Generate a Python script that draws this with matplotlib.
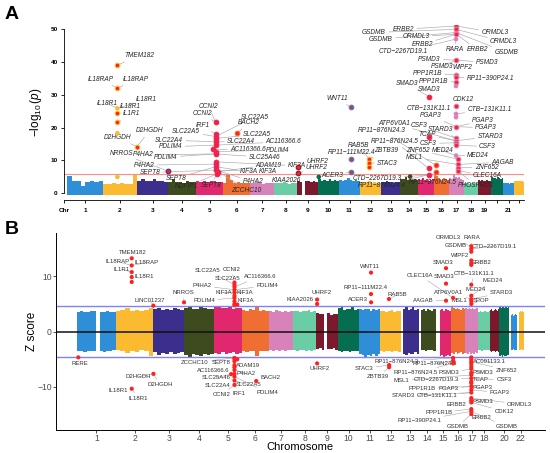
import matplotlib
matplotlib.use("Agg")
import matplotlib.pyplot as plt
import numpy as np

plt.rcParams['font.family'] = ['Liberation Sans', 'DejaVu Sans']
plt.rcParams['mathtext.fontset'] = 'custom'
plt.rcParams['mathtext.rm'] = 'Liberation Sans'
plt.rcParams['mathtext.it'] = 'Liberation Sans:italic'

# ---------------- shared data ----------------
CHR_LEN = [249, 243, 198, 191, 181, 171, 159, 146, 141, 136, 135, 134,
           115, 107, 102, 90, 81, 78, 59, 63, 48, 51]          # Mb
A_SPAN = [36, 34, 31, 28, 27, 27, 24, 23, 21, 21, 21, 21,
          19, 18, 16, 15, 15, 14, 13, 12, 11, 10]               # panel A: relative SNP count per chromosome
COLORS = ['#2E8FD8', '#FBBA30', '#3B2E8C', '#3D4B1E', '#E1286E',
          '#F06E32', '#D782B9', '#69CDA5', '#7D192D', '#056E50']
RED = '#FF2020'

# ---------------- panel A data ----------------
A_TOP = [
    [5.2, 3.6, 3.8, 2.2, 3.5, 3.7, 3.4, 3.6],
    [2.8, 2.9, 3.1, 2.8, 3.0, 2.7, 2.9, 5.6],
    [3.8, 4.3, 3.6, 3.9, 4.4, 3.7, 3.8, 3.5],
    [3.4, 4.4, 3.3, 3.5, 3.2, 3.6, 3.4, 3.3],
    [3.6, 3.4, 3.7, 3.5, 3.9, 3.6, 3.4, 3.5],
    [3.1, 5.6, 4.2, 3.1, 3.3, 3.0, 3.2, 3.0],
    [3.1, 3.0, 3.3, 3.1, 2.9, 3.2, 3.0, 3.1],
    [3.1, 3.2, 3.0, 3.3, 3.1, 2.9, 3.2, 3.0],
    [3.8, 3.5, 0.0, 3.6, 3.8, 3.5, 3.7, 3.4],
    [4.5, 3.8, 4.2, 3.9, 4.4, 3.7, 4.0, 3.8],
    [4.2, 3.9, 4.1, 4.6, 4.0, 3.8, 4.2, 3.9],
    [3.3, 3.1, 3.4, 3.6, 3.2, 3.3, 3.0, 3.2],
    [3.5, 3.3, 3.6, 3.4, 3.5, 3.2, 3.4, 3.3],
    [4.5, 4.3, 5.0, 4.2, 4.4, 4.0, 4.3, 4.1],
    [4.4, 4.0, 4.6, 4.2, 4.5, 3.9, 4.1, 4.3],
    [5.5, 5.2, 4.6, 4.0, 4.3, 4.8, 4.5, 4.2],
    [4.8, 4.4, 5.5, 5.0, 4.6, 4.9, 4.3, 4.0],
    [3.1, 3.0, 3.2, 2.9, 3.1, 3.0, 3.2, 3.1],
    [4.0, 3.8, 4.1, 3.9, 3.8, 4.0, 3.7, 3.9],
    [5.0, 4.6, 4.8, 4.5, 5.0, 4.7, 4.4, 4.6],
    [3.1, 3.0, 3.2, 3.1, 2.9, 3.0, 3.1, 3.0],
    [3.8, 3.6, 3.9, 3.7, 3.8, 3.6, 3.7, 3.5],
]
A_THRESH = 5.8

a_pt_chr = [2, 2, 2, 2, 2, 2, 2, 2,
            3,
            5, 5, 5, 5, 5, 5, 5, 5, 5, 5, 5, 5, 5, 5, 5,
            6, 9, 9, 10, 11, 11, 11, 12, 12, 12, 14,
            15, 15, 15, 15, 16, 16,
            17, 17, 17, 17, 17, 17, 17, 17, 17, 17, 17, 17, 17, 17, 17, 17, 17, 17, 17,
            17, 17, 17, 17]
a_pt_pos = [103.0, 103.0, 103.0, 103.0, 103.0, 103.0, 103.0, 242.7,
            196.4,
            131.8, 131.8, 131.8, 131.8, 131.8, 131.8, 112.0, 131.8, 131.8, 131.8, 131.8, 131.8, 131.8, 150.0, 140.0,
            90.7, 6.4, 6.4, 5.0, 75.9, 75.9, 76.6, 57.4, 57.4, 57.4, 60.0,
            67.4, 67.4, 67.0, 67.0, 11.1, 11.1,
            38.0, 38.0, 38.0, 38.0, 38.0, 38.0, 38.0, 38.0, 38.0, 38.0, 38.0, 38.0, 38.0, 38.0, 38.0, 38.0, 38.0, 38.0, 38.0,
            47.4, 47.4, 47.4, 47.4]
a_pt_val = [39.1, 32.0, 25.9, 24.4, 21.7, 18.3, 5.0, 14.2,
            6.8,
            21.6, 18.0, 17.3, 16.7, 15.7, 14.7, 13.4, 12.7, 12.0, 9.6, 8.9, 8.1, 7.1, 6.6, 5.9,
            18.4, 8.1, 6.1, 5.0, 26.2, 10.4, 6.6, 10.4, 9.3, 8.0, 5.1,
            29.5, 17.1, 7.6, 5.6, 8.5, 6.6,
            51.0, 50.0, 49.0, 48.5, 47.0, 40.6, 36.1, 35.4, 34.0, 32.7, 26.6, 24.2, 23.2, 20.3, 16.8, 16.0, 15.4, 14.7, 11.5,
            10.4, 8.8, 7.8, 6.9]
a_pt_hl = [1, 1, 0, 1, 1, 0, 0, 1,
           1,
           1, 1, 1, 1, 1, 1, 1, 1, 1, 1, 1, 1, 1, 1, 1,
           1, 1, 1, 0, 1, 1, 1, 1, 1, 1, 0,
           1, 1, 1, 1, 1, 1,
           1, 1, 1, 1, 0, 1, 1, 1, 1, 0, 1, 0, 0, 1, 1, 1, 1, 1, 0,
           1, 1, 1, 1]

# label text, label x (panel-A units), label y (-log10 p), target chromosome, target value
a_labels = [
    ("TMEM182", 72.2, 41.9, 2, 39.1), ("IL18RAP", 33.3, 34.8, 2, 32.0), ("IL18RAP", 68.5, 34.8, 2, 32.0),
    ("IL18R1", 40.2, 27.4, 2, 25.9), ("IL18R1", 79.3, 28.7, 2, 25.9), ("IL18R1", 63.0, 26.4, 2, 24.4),
    ("IL1R1", 64.3, 24.2, 2, 21.7), ("D2HGDH", 50.3, 17.0, 2, 14.2), ("D2HGDH", 82.3, 19.0, 2, 14.2),
    ("NRROS", 54.7, 12.0, 3, 6.8), ("P4HA2", 76.3, 11.7, 5, 12.0), ("PDLIM4", 98.8, 11.0, 5, 12.0),
    ("P4HA2", 77.2, 8.6, 5, 8.9), ("SEPT8", 82.7, 6.3, 5, 7.1), ("CCNI2", 141.8, 26.4, 5, 21.6),
    ("CCNI2", 135.2, 24.4, 5, 21.6), ("IRF1", 135.5, 20.8, 5, 18.0), ("SLC22A5", 119.3, 18.8, 5, 17.3),
    ("SLC22A5", 187.5, 23.2, 5, 17.3), ("BACH2", 182.2, 21.5, 6, 18.4), ("SLC22A5", 189.7, 18.0, 5, 16.7),
    ("SLC22A4", 102.3, 16.2, 5, 15.7), ("SLC22A4", 174.2, 15.7, 5, 15.7), ("AC116366.6", 216.5, 15.7, 5, 14.7),
    ("PDLIM4", 103.5, 14.2, 5, 14.7), ("AC116366.6", 180.8, 13.4, 5, 13.4), ("PDLIM4", 211.0, 13.2, 5, 12.7),
    ("SLC25A46", 197.5, 11.0, 5, 12.0), ("ADAM19", 201.5, 8.6, 5, 6.6), ("KIF3A", 181.5, 6.6, 5, 8.1),
    ("KIF3A", 200.5, 6.6, 5, 7.1), ("KIF3A", 229.7, 8.4, 5, 9.6), ("SEPT8", 144.3, 2.5, 5, 5.9),
    ("ZCCHC10", 179.7, 1.0, 5, 6.6), ("P4HA2", 186.3, 3.5, 5, 7.1), ("SEPT8", 109.0, 4.6, 5, 8.1),
    ("NDFIP1", 119.7, 2.0, 5, 5.9), ("KIAA2026", 219.0, 3.8, 9, 6.1), ("UHRF2", 250.0, 9.8, 9, 8.1),
    ("UHRF2", 249.7, 7.9, 9, 6.1), ("ACER3", 265.2, 5.4, 11, 6.6), ("WNT11", 270.0, 29.0, 11, 26.2),
    ("RAB5B", 292.0, 14.7, 12, 10.4), ("RP11\u2212111M22.4", 284.5, 12.5, 11, 10.4), ("ZBTB39", 319.5, 12.9, 12, 10.4),
    ("STAC3", 320.5, 9.1, 12, 9.3), ("CTD\u22122267D19.3", 310.5, 4.4, 15, 5.6), ("RP11\u2212876N24.4", 314.5, 2.5, 15, 5.6),
    ("RP11\u2212876N24.5", 365.5, 3.4, 16, 6.6), ("SMAD3", 340.0, 33.5, 15, 29.5), ("SMAD3", 362.5, 31.5, 15, 29.5),
    ("PPP1R1B", 360.5, 36.6, 17, 36.1), ("PPP1R1B", 366.5, 34.0, 17, 34.0), ("RP11\u2212390P24.1", 423.5, 35.1, 17, 35.4),
    ("WIPF2", 395.5, 38.4, 17, 36.1), ("PSMD3", 362.5, 40.9, 17, 40.6), ("PSMD3", 420.0, 39.9, 17, 40.6),
    ("PSMD3", 375.5, 38.8, 17, 40.6), ("ERBB2", 336.5, 50.0, 17, 51.0), ("GSDMB", 307.0, 49.0, 17, 50.0),
    ("GSDMB", 314.0, 47.0, 17, 49.0), ("ORMDL3", 349.0, 47.7, 17, 48.5), ("ERBB2", 355.5, 45.4, 17, 48.5),
    ("CTD\u22122267D19.1", 336.5, 43.2, 17, 47.0), ("RARA", 388.0, 43.7, 17, 47.0), ("ERBB2", 411.0, 43.7, 17, 48.5),
    ("GSDMB", 439.5, 43.0, 17, 49.0), ("ORMDL3", 428.0, 49.0, 17, 51.0), ("ORMDL3", 436.5, 46.2, 17, 50.0),
    ("CDK12", 396.0, 28.7, 17, 26.6), ("CTB\u2212131K11.1", 361.5, 25.8, 17, 24.2), ("CTB\u2212131K11.1", 422.5, 25.6, 17, 24.2),
    ("PGAP3", 363.5, 23.7, 17, 20.3), ("PGAP3", 416.0, 22.1, 17, 20.3), ("PGAP3", 419.0, 20.0, 17, 20.3),
    ("STARD3", 374.0, 19.5, 17, 16.8), ("CSF3", 352.5, 20.6, 17, 16.8), ("ATP6V0A1", 327.0, 21.3, 17, 16.0),
    ("TCAP", 360.5, 17.8, 17, 16.0), ("CSF3", 361.5, 15.2, 17, 15.4), ("STARD3", 423.0, 17.3, 17, 16.0),
    ("CSF3", 420.5, 14.2, 17, 14.7), ("RP11\u2212876N24.3", 315.0, 19.0, 16, 8.5), ("RP11\u2212876N24.5", 327.5, 15.9, 15, 7.6),
    ("ZNF652", 351.0, 13.2, 17, 10.4), ("MED24", 375.5, 13.0, 17, 11.5), ("MSL1", 347.5, 10.9, 17, 8.8),
    ("MED24", 411.0, 11.4, 17, 11.5), ("AAGAB", 435.5, 9.5, 17, 8.8), ("ZNF652", 419.5, 7.8, 17, 7.8),
    ("CLEC16A", 420.5, 5.4, 17, 6.9), ("PHOSPHO1", 409.0, 2.3, 17, 6.9),
]
A_TICK_LABELS = ['1', '2', '3', '4', '5', '6', '7', '8', '9', '10', '11', '12', '13', '14',
                 '15', '16', '17', '18', '19', '', '21', '']

# ---------------- panel B data ----------------
B_UP = [
    [3.6, 3.7, 3.5, 3.6, 3.8, 3.7, 0.0, 3.6, 3.5, 3.7, 3.6, 3.5],
    [3.8, 3.9, 4.3, 3.8, 3.9, 3.7, 3.9, 4.2],
    [4.0, 4.2, 3.9, 4.1, 3.9, 4.2, 4.0, 3.9],
    [4.3, 4.5, 4.1, 4.0, 4.4, 4.2, 4.0, 4.1],
    [4.4, 4.5, 4.2, 4.3, 4.5, 4.1, 4.3, 4.2],
    [3.9, 3.8, 4.0, 3.9, 4.5, 3.8, 3.9, 3.7],
    [3.7, 3.6, 3.9, 3.7, 3.6, 3.8, 3.6, 3.7],
    [3.8, 3.7, 3.6, 3.8, 3.7, 3.9, 3.6, 3.7],
    [3.3, 3.1, 3.2, 0.0, 3.3, 3.0, 3.2, 3.1],
    [4.2, 4.5, 3.9, 4.1, 4.0, 4.4, 3.9, 4.0],
    [4.0, 3.9, 4.1, 4.0, 3.8, 4.0, 3.9, 4.1],
    [3.7, 3.8, 3.6, 3.7, 3.9, 3.6, 3.7, 3.8],
    [0.0, 4.0, 4.4, 3.9, 4.1, 4.5, 3.9, 4.0],
    [0.0, 3.9, 4.0, 3.8, 4.0, 3.9, 3.8, 4.0],
    [0.0, 0.0, 3.9, 4.0, 3.8, 4.0, 3.9, 3.8],
    [4.5, 4.2, 4.0, 4.3, 4.1, 3.9, 4.2, 4.0],
    [4.2, 4.1, 4.3, 4.0, 4.2, 4.1, 4.0, 4.2],
    [3.6, 3.7, 3.5, 3.6, 3.7, 3.5, 3.6, 3.7],
    [3.9, 4.0, 3.8, 3.9, 4.1, 3.9, 3.8, 4.0],
    [4.5, 4.3, 4.6, 4.4, 4.2, 4.5, 4.3, 4.4],
    [0.0, 0.0, 3.0, 3.1, 2.9, 3.0, 3.1, 3.0],
    [0.0, 0.0, 3.6, 3.7, 3.5, 3.6, 3.7, 3.6],
]
B_LO = [
    [-3.6, -3.5, -3.7, -3.6, -3.5, -3.6, 0.0, -3.6, -3.7, -3.5, -3.6, -3.4],
    [-3.4, -3.6, -3.9, -3.5, -3.7, -3.4, -3.6, -4.5],
    [-3.8, -4.2, -3.9, -4.0, -3.8, -4.1, -3.9, -3.7],
    [-4.2, -4.6, -4.0, -4.3, -4.5, -4.1, -4.2, -4.0],
    [-3.9, -4.0, -3.8, -4.1, -3.9, -3.8, -4.0, -3.9],
    [-3.6, -3.7, -3.5, -3.6, -4.4, -3.6, -3.5, -3.6],
    [-3.4, -3.5, -3.3, -3.6, -3.4, -3.5, -3.3, -3.4],
    [-3.4, -3.5, -3.3, -3.4, -3.6, -3.3, -3.5, -3.4],
    [-3.2, -3.0, -3.3, 0.0, -3.1, -3.2, -3.0, -3.3],
    [-3.6, -3.7, -3.5, -3.6, -3.7, -3.6, -3.5, -3.6],
    [-4.0, -4.3, -4.8, -4.2, -4.4, -4.0, -4.5, -4.1],
    [-3.6, -3.7, -3.5, -3.6, -3.7, -3.5, -3.6, -3.7],
    [0.0, -4.0, -4.2, -3.9, -4.1, -4.0, -3.8, -4.0],
    [0.0, -3.4, -3.3, -3.5, -3.3, -3.4, -3.3, -3.5],
    [0.0, 0.0, -4.5, -4.3, -4.6, -4.4, -4.2, -4.5],
    [-3.9, -4.0, -3.8, -4.1, -3.9, -3.8, -4.0, -3.9],
    [-3.9, -4.0, -3.8, -4.1, -3.9, -4.0, -3.8, -3.9],
    [-3.4, -3.3, -3.5, -3.3, -3.4, -3.3, -3.4, -3.3],
    [-3.6, -3.7, -3.5, -3.6, -3.7, -3.5, -3.6, -3.7],
    [-4.5, -4.3, -4.6, -4.2, -4.4, -4.5, -4.3, -4.2],
    [0.0, 0.0, -3.3, -3.4, -3.2, -3.3, -3.4, -3.3],
    [0.0, 0.0, -3.3, -3.4, -3.2, -3.3, -3.4, -3.3],
]
B_THRESH = 4.7

b_pt_chr = [1, 2, 2, 2, 2, 2, 2, 2, 2, 3]
b_pt_pos = [8.5, 103.0, 103.0, 103.0, 103.0, 103.0, 103.0, 242.0, 242.7, 196.4]
b_pt_val = [-4.7, 13.3, 12.0, 10.8, 9.9, 9.0, -10.4, 4.7, -7.7, 5.3]
b5_pos = [131.8] * 10 + [150.0] + [131.8] * 10 + [150.0, 110.0]
b5_val = [8.9, 8.5, 8.1, 7.6, 7.1, 6.5, 6.1, 5.5, 5.0, 4.8, 4.9,
          -4.8, -5.0, -5.4, -6.1, -6.5, -7.0, -7.7, -8.2, -8.9, -9.7, -5.05, -7.75]
b_mid_chr = [6, 9, 9, 9, 11, 11, 11, 12, 12, 12, 15, 15, 15, 16, 16, 16, 16]
b_mid_pos = [90.7, 6.4, 6.4, 6.4, 75.9, 75.9, 76.6, 56.4, 57.5, 57.5, 67.4, 67.4, 67.5, 11.1, 11.0, 11.0, 11.0]
b_mid_val = [-9.0, 5.8, 5.0, -5.8, 10.7, 6.8, 5.3, 5.9, -6.1, -6.5, 11.5, 8.7, 5.6, 6.1, -4.8, -5.3, -5.8]
b17_val = [15.5, 15.0, 14.5, 12.9, 12.4, 12.1, 8.5, 6.5, 5.9, 5.5, 5.0,
           -4.7, -5.1, -5.5, -5.9, -6.4, -6.8, -7.5, -7.9, -8.5, -9.1, -9.4, -10.0,
           -10.6, -11.1, -12.1, -12.5, -12.9, -14.1, -14.5, -15.0]

# label text, label x (genome Mb), label y (Z), target chromosome, target value
b_labels = [
    ("TMEM182", 356.6, 14.4, 2, 13.3), ("IL18RAP", 263.7, 12.7, 2, 12.0), ("IL18RAP", 447.0, 12.5, 2, 12.0),
    ("IL1R1", 286.0, 11.3, 2, 10.8), ("IL18R1", 434.0, 10.0, 2, 9.9), ("LINC01237", 469.5, 5.6, 2, 4.7),
    ("NRROS", 685.0, 7.0, 3, 5.3), ("RERE", 16.0, -5.9, 1, -4.7), ("D2HGDH", 395.5, -8.2, 2, -7.7),
    ("D2HGDH", 533.8, -9.7, 2, -7.7), ("IL18R1", 263.7, -10.7, 2, -10.4), ("IL18R1", 392.0, -12.1, 2, -10.4),
    ("CCNI2", 993.6, 11.3, 5, 8.9), ("SLC22A5", 842.4, 11.1, 5, 8.5), ("SLC22A5", 971.0, 9.7, 5, 8.5),
    ("AC116366.6", 1176.8, 10.0, 5, 8.1), ("PDLIM4", 1221.9, 8.3, 5, 7.6), ("P4HA2", 803.9, 8.3, 5, 7.6),
    ("KIF3A", 942.0, 7.1, 5, 7.1), ("KIF3A", 1077.0, 7.1, 5, 7.1), ("PDLIM4", 816.7, 5.6, 5, 6.1),
    ("KIF3A", 1086.8, 5.6, 5, 5.5), ("ZCCHC10", 758.8, -5.6, 5, -4.8), ("SEPT8", 929.0, -5.6, 5, -5.0),
    ("ADAM19", 1099.7, -6.1, 5, -5.05), ("AC116366.6", 874.6, -7.1, 5, -6.5), ("P4HA2", 1086.8, -7.6, 5, -7.0),
    ("BACH2", 1244.4, -8.4, 6, -9.0), ("SLC25A46", 893.9, -8.4, 5, -7.75), ("SLC22A4", 903.5, -9.9, 5, -9.7),
    ("SLC22A5", 1102.9, -9.7, 5, -8.9), ("CCNI2", 929.0, -11.5, 5, -9.7), ("IRF1", 1045.0, -11.2, 5, -9.7),
    ("PDLIM4", 1225.0, -11.1, 5, -8.2),
    ("ORMDL3", 2389.0, 17.0, 17, 15.5), ("RARA", 2540.0, 17.0, 17, 15.5), ("GSDMB", 2437.0, 15.6, 17, 15.0),
    ("CTD\u22122267D19.1", 2681.7, 15.5, 17, 15.0), ("WIPF2", 2463.0, 13.9, 17, 12.9), ("ERBB2", 2598.0, 12.5, 17, 12.4),
    ("SMAD3", 2353.7, 12.5, 15, 11.5), ("SMAD3", 2360.0, 10.0, 15, 8.7), ("CTB\u2212131K11.1", 2556.0, 10.6, 17, 8.5),
    ("MED24", 2672.0, 9.2, 17, 6.5), ("MED24", 2566.0, 7.7, 17, 6.5), ("CLEC16A", 2205.0, 10.2, 16, 6.1),
    ("STARD3", 2730.0, 7.0, 17, 5.9), ("ATP6V0A1", 2392.0, 7.1, 17, 5.9), ("AAGAB", 2225.0, 5.6, 15, 5.6),
    ("MSL1", 2460.0, 5.6, 17, 5.5), ("SPOP", 2598.0, 5.6, 17, 5.0), ("WNT11", 1887.0, 11.8, 11, 10.7),
    ("RP11\u2212111M22.4", 1855.0, 8.0, 11, 6.8), ("ACER3", 1804.0, 5.9, 11, 5.3), ("RAB5B", 2061.0, 6.7, 12, 5.9),
    ("UHRF2", 1572.0, 7.1, 9, 5.8), ("KIAA2026", 1434.0, 5.8, 9, 5.0), ("UHRF2", 1559.5, -6.8, 9, -5.8),
    ("STAC3", 1845.7, -6.7, 12, -6.1), ("RP11\u2212876N24.3", 2058.0, -5.5, 16, -4.8), ("ZBTB39", 1935.7, -8.2, 12, -6.5),
    ("RP11\u2212876N24.4", 2299.0, -5.9, 16, -5.3), ("RP11\u2212876N24.5", 2177.0, -7.5, 16, -5.8), ("PSMD3", 2389.0, -7.5, 17, -6.8),
    ("MSL1", 2087.0, -8.9, 17, -7.9), ("CTD\u22122267D19.3", 2309.0, -8.8, 17, -8.5), ("PPP1R1B", 2222.0, -10.3, 17, -10.0),
    ("PGAP3", 2392.0, -10.3, 17, -10.0), ("STARD3", 2100.0, -11.7, 17, -11.1), ("CTB\u2212131K11.1", 2318.0, -11.7, 17, -11.1),
    ("AC091133.1", 2656.0, -5.5, 17, -4.7), ("ZNF652", 2762.0, -7.0, 17, -5.5), ("PSMD3", 2608.0, -7.5, 17, -6.8),
    ("TCAP", 2598.0, -8.8, 17, -8.5), ("CSF3", 2746.0, -8.8, 17, -8.5), ("PGAP3", 2611.0, -10.2, 17, -10.0),
    ("PGAP3", 2717.0, -11.1, 17, -10.6), ("ORMDL3", 2846.0, -13.2, 17, -12.1), ("ERBB2", 2437.0, -13.2, 17, -12.5),
    ("PSMD3", 2608.0, -12.7, 17, -12.5), ("CDK12", 2746.0, -14.5, 17, -12.9), ("PPP1R1B", 2328.0, -14.7, 17, -14.1),
    ("RP11\u2212390P24.1", 2202.0, -16.2, 17, -14.5), ("ERBB2", 2598.0, -15.7, 17, -15.0), ("GSDMB", 2447.0, -17.3, 17, -15.0),
    ("GSDMB", 2762.0, -17.3, 17, -14.5),
]
B_TICK_CHR = [1, 2, 3, 4, 5, 6, 7, 8, 9, 10, 11, 12, 13, 14, 15, 16, 17, 18, 20, 22]


def ccol(c):
    return COLORS[(c - 1) % len(COLORS)]


fig = plt.figure(figsize=(5.5, 4.53), dpi=100)

# ======================= Panel A =======================
axA = fig.add_axes([64 / 550, 253 / 453, 460 / 550, 175 / 453])
a_start = np.concatenate([[0], np.cumsum(A_SPAN)[:-1]])


def a_x(c, pos):
    return a_start[c - 1] + pos / CHR_LEN[c - 1] * A_SPAN[c - 1]


for c in range(1, 23):
    tops = A_TOP[c - 1]
    n = len(tops)
    w = A_SPAN[c - 1] / n
    for i, t in enumerate(tops):
        if t <= 0:
            continue
        axA.bar(a_start[c - 1] + (i + 0.5) * w, t + 0.45, bottom=-0.45, width=w,
                color=ccol(c), linewidth=0, zorder=1)

axA.axhline(A_THRESH, color='#FF8A8A', lw=0.8, zorder=2)

a_lookup = {}
for c, p, v, h in zip(a_pt_chr, a_pt_pos, a_pt_val, a_pt_hl):
    x = a_x(c, p)
    a_lookup[(c, v)] = (x, v)
    if h:
        axA.scatter([x], [v], s=11, facecolor=RED, edgecolor=ccol(c), linewidth=0.8, zorder=5)
    else:
        axA.scatter([x], [v], s=11, facecolor=ccol(c), edgecolor='none', zorder=5)

for txt, lu, lv, tc, tv in a_labels:
    tx, ty = a_lookup[(tc, tv)]
    axA.annotate(txt, xy=(tx, ty), xytext=(lu, lv), textcoords='data',
                 ha='center', va='center', fontsize=4.7, style='italic', color='#262626',
                 annotation_clip=False, zorder=4,
                 arrowprops=dict(arrowstyle='-', color='#A8A8A8', lw=0.45,
                                 shrinkA=0, shrinkB=1.2))

axA.set_xlim(-3, 457)
axA.set_ylim(-2.04, 51.3)
for s in ['top', 'right']:
    axA.spines[s].set_visible(False)
axA.spines['left'].set_bounds(0, 50)
axA.spines['left'].set_linewidth(0.6)
axA.spines['bottom'].set_linewidth(0.6)
a_centers = [a_start[i] + A_SPAN[i] / 2 for i in range(22)]
axA.set_xticks([-3] + a_centers)
axA.set_xticklabels(['Chr'] + A_TICK_LABELS)
axA.set_yticks([0, 10, 20, 30, 40, 50])
axA.tick_params(axis='both', direction='out', length=2.5, width=0.6, labelsize=4.6, pad=2)
axA.tick_params(axis='x', pad=3)
for lab in axA.get_xticklabels() + axA.get_yticklabels():
    lab.set_fontweight('bold')
fig.text(36 / 550, 1 - 112.5 / 453, r'$-\log_{10}(\mathit{p})$', rotation=90,
         ha='center', va='center', fontsize=8.5)
fig.text(5 / 550, 1 - 6 / 453, 'A', fontsize=14, fontweight='bold', ha='left', va='top')

# ======================= Panel B =======================
axB = fig.add_axes([56 / 550, 23 / 453, 489 / 550, 197 / 453])
b_start = np.concatenate([[0], np.cumsum(CHR_LEN)[:-1]])


def b_x(c, pos):
    return b_start[c - 1] + pos


for c in range(1, 23):
    ups = B_UP[c - 1]
    los = B_LO[c - 1]
    n = len(ups)
    w = CHR_LEN[c - 1] / n
    for i in range(n):
        if ups[i] == 0 and los[i] == 0:
            continue
        axB.bar(b_start[c - 1] + (i + 0.5) * w, ups[i] - los[i], bottom=los[i], width=w,
                color=ccol(c), linewidth=0, zorder=1)

axB.axhline(0, color='#111111', lw=1.1, zorder=2)
axB.axhline(B_THRESH, color='#8080FF', lw=1.0, zorder=2)
axB.axhline(-B_THRESH, color='#8080FF', lw=1.0, zorder=2)

b_all = []
b_all += list(zip(b_pt_chr, b_pt_pos, b_pt_val))
b_all += [(5, p, v) for p, v in zip(b5_pos, b5_val)]
b_all += list(zip(b_mid_chr, b_mid_pos, b_mid_val))
b_all += [(17, 38.0, v) for v in b17_val]
b_lookup = {}
bx, by = [], []
for c, p, v in b_all:
    x = b_x(c, p)
    b_lookup[(c, v)] = (x, v)
    bx.append(x)
    by.append(v)
axB.scatter(bx, by, s=9, color=RED, edgecolor='none', zorder=5)

for txt, lg, lv, tc, tv in b_labels:
    tx, ty = b_lookup[(tc, tv)]
    axB.annotate(txt, xy=(tx, ty), xytext=(lg, lv), textcoords='data',
                 ha='center', va='center', fontsize=4.3, color='#333333',
                 annotation_clip=False, zorder=4,
                 arrowprops=dict(arrowstyle='-', color='#9A9A9A', lw=0.35,
                                 shrinkA=0, shrinkB=1.2))

axB.set_xlim(-135, 3010)
axB.set_ylim(-17.9, 17.9)
for s in ['top', 'right']:
    axB.spines[s].set_visible(False)
axB.spines['left'].set_linewidth(0.7)
axB.spines['bottom'].set_linewidth(0.7)
axB.set_xticks([b_start[c - 1] + CHR_LEN[c - 1] / 2 for c in B_TICK_CHR])
axB.set_xticklabels([str(c) for c in B_TICK_CHR])
axB.set_yticks([-10, 0, 10])
axB.set_yticklabels(['\u221210', '0', '10'])
axB.tick_params(axis='both', direction='out', length=2.0, width=0.6, colors='#333333',
                labelcolor='#4D4D4D', labelsize=6.2, pad=1.0)
fig.text(32 / 550, 1 - 331.5 / 453, 'Z score', rotation=90, ha='center', va='center', fontsize=8.5)
fig.text(300 / 550, 1 - 447.5 / 453, 'Chromosome', ha='center', va='center', fontsize=8)
fig.text(5 / 550, 1 - 221 / 453, 'B', fontsize=14, fontweight='bold', ha='left', va='top')

fig.savefig('out.png', dpi=100)
